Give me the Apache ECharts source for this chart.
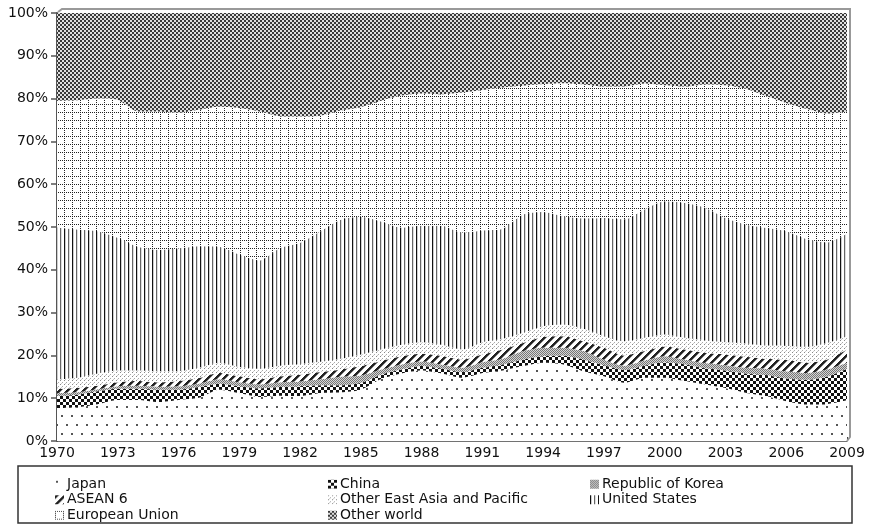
<!DOCTYPE html>
<html><head><meta charset="utf-8">
<script src="https://cdn.jsdelivr.net/npm/echarts@6/dist/echarts.min.js"></script>
<style>html,body{margin:0;padding:0;background:#fff}#c{width:870px;height:526px}</style>
</head><body><div id="c"></div>
<script>
const years = ['1970','1971','1972','1973','1974','1975','1976','1977','1978','1979',
 '1980','1981','1982','1983','1984','1985','1986','1987','1988','1989',
 '1990','1991','1992','1993','1994','1995','1996','1997','1998','1999',
 '2000','2001','2002','2003','2004','2005','2006','2007','2008','2009'];
const yTicks = [0,10,20,30,40,50,60,70,80,90,100];

const japan = [7.7,7.9,8.6,9.6,9.6,9.1,9.6,10.1,12.0,11.2,
 10.3,10.6,10.5,11.2,11.4,12.0,14.5,15.8,16.5,15.8,
 14.8,15.9,16.5,17.5,18.3,17.9,16.3,15.1,13.6,14.8,
 14.8,14.0,13.2,12.4,11.3,10.5,9.3,8.5,8.6,9.5];
const china = [2.8,2.9,3.0,2.6,2.6,2.9,2.4,2.5,1.4,1.6,
 2.0,2.0,2.3,1.8,1.6,1.6,1.0,0.9,1.0,1.1,
 1.3,1.2,1.4,1.5,1.5,2.0,2.7,2.6,3.0,2.8,
 3.6,3.9,3.8,4.1,4.5,4.9,5.3,5.8,6.4,7.4];
const korea = [0.7,0.6,0.5,0.6,0.7,0.7,0.8,0.8,1.0,0.9,
 0.9,1.1,1.1,1.4,2.0,1.7,1.2,1.2,1.1,1.0,
 1.0,1.3,1.3,2.0,2.0,1.9,2.0,1.3,1.0,1.2,
 1.4,1.1,1.2,1.2,1.3,1.5,1.7,1.6,1.7,1.4];
const asean6 = [1.0,1.0,0.8,0.9,1.1,1.0,1.2,1.3,1.5,1.4,
 1.2,1.4,1.6,1.7,1.7,2.2,2.0,1.9,1.8,2.0,
 1.9,1.8,2.2,1.9,2.5,2.7,2.3,2.8,2.4,2.2,
 2.3,2.4,2.4,2.5,2.6,2.3,2.6,2.4,2.3,3.1];
const otherEAP = [2.2,2.4,2.9,2.8,2.5,2.6,2.3,2.4,2.4,2.2,
 2.5,2.5,2.5,2.4,2.5,2.7,2.7,2.7,2.7,2.6,
 2.4,2.9,2.5,2.4,2.5,2.7,2.9,2.7,3.3,3.1,
 2.8,2.7,2.9,2.9,3.1,3.1,3.3,3.7,3.9,3.1];
const unitedStates = [35.4,34.6,33.2,31.0,28.9,28.4,28.7,28.4,27.1,26.3,
 25.3,27.5,28.3,30.5,32.5,32.2,29.9,27.4,27.2,27.8,
 27.3,26.1,25.7,27.6,26.7,25.3,25.8,27.6,28.5,30.0,
 31.1,31.5,31.0,29.0,27.8,27.5,26.8,25.2,23.5,24.0];
const europeanUnion = [29.7,30.2,31.0,32.2,31.6,32.3,31.7,31.9,32.7,34.2,
 34.8,30.8,29.5,27.0,25.5,25.6,28.2,30.8,30.9,30.7,
 32.7,32.8,33.0,30.1,29.9,31.1,31.3,30.7,31.0,29.4,
 27.1,27.2,28.8,31.0,31.7,30.8,30.0,30.4,30.1,28.5];
const otherWorld = [20.5,20.4,20.0,20.3,23.0,23.0,23.3,22.6,21.9,22.2,
 23.0,24.1,24.2,24.0,22.8,22.0,20.5,19.3,18.8,19.0,
 18.6,18.0,17.4,17.0,16.6,16.4,16.7,17.2,17.2,16.5,
 16.9,17.2,16.7,16.9,17.7,19.4,21.0,22.4,23.5,23.0];

function pat(w, h, draw) {
  const c = document.createElement('canvas');
  c.width = w; c.height = h;
  const g = c.getContext('2d');
  g.fillStyle = '#fff'; g.fillRect(0, 0, w, h);
  draw(g);
  return { image: c, repeat: 'repeat' };
}
function px(g, col, x, y, w, h) { g.fillStyle = col; g.fillRect(x, y, w || 1, h || 1); }

const pJapan = pat(10, 18, g => { px(g,'#555',1,1,2,2); px(g,'#555',6,10,2,2); });
const pChina = pat(6, 6, g => { px(g,'#111',0,0,3,3); px(g,'#111',3,3,3,3); });
const pKorea = pat(2, 2, g => { px(g,'#d4d4d4',0,0,2,2); px(g,'#777',0,0); px(g,'#777',1,1); });
const pAsean = pat(8, 8, g => {
  for (let x = 0; x < 8; x++) for (let y = 0; y < 8; y++) {
    const k = (x + y) % 8;
    if (k < 3) px(g,'#222',x,y); else if (k === 3) px(g,'#999',x,y);
  }
});
const pOEAP = pat(4, 4, g => { px(g,'#888',0,0); px(g,'#aaa',2,2); px(g,'#ccc',1,3); });
const pUS = pat(8, 1, g => { px(g,'#111',0,0); px(g,'#666',4,0); px(g,'#ccc',1,0); px(g,'#ddd',5,0); });
const pEU = pat(8, 8, g => {
  for (let i = 0; i < 8; i += 2) { px(g,'#222',i,0); px(g,'#222',0,i); }
});
const pOther = pat(4, 4, g => { px(g,'#e0e0e0',0,0,4,4); px(g,'#3a3a3a',0,0,2,2); px(g,'#3a3a3a',2,2,2,2); });

const seriesDefs = [
  ['Japan', japan, pJapan],
  ['China', china, pChina],
  ['Republic of Korea', korea, pKorea],
  ['ASEAN 6', asean6, pAsean],
  ['Other East Asia and Pacific', otherEAP, pOEAP],
  ['United States', unitedStates, pUS],
  ['European Union', europeanUnion, pEU],
  ['Other world', otherWorld, pOther]
];
const patOf = {};
seriesDefs.forEach(d => patOf[d[0]] = d[2]);

const font = 'DejaVu Sans';
function legendCol(left, names) {
  return {
    orient: 'vertical', left: left, top: 477, padding: 0, itemWidth: 9, itemHeight: 9, itemGap: 1,
    icon: 'rect', selectedMode: false,
    textStyle: { fontFamily: font, fontSize: 14, color: '#111', lineHeight: 14.5, padding: [0,0,0,-2] },
    data: names.map(n => ({ name: n, itemStyle: { color: patOf[n], borderWidth: 0 } }))
  };
}

const chart = echarts.init(document.getElementById('c'), null, { renderer: 'canvas' });
chart.setOption({
  animation: false,
  backgroundColor: '#fff',
  grid: { left: 57, right: 23, top: 13, bottom: 85, containLabel: false },
  xAxis: {
    type: 'category', data: years, boundaryGap: false,
    axisLine: { lineStyle: { color: '#444', width: 1.5 } },
    axisTick: { inside: true, length: 4, interval: 0, lineStyle: { color: '#444' } },
    axisLabel: { interval: 2, margin: 5, fontFamily: font, fontSize: 14, color: '#111' },
    splitLine: { show: false }
  },
  yAxis: {
    type: 'value', min: 0, max: 100, interval: 10,
    axisLine: { show: true, lineStyle: { color: '#555', width: 2 } },
    axisTick: { show: true, length: 6, lineStyle: { color: '#555', width: 1.5 } },
    axisLabel: { formatter: v => yTicks.includes(v) ? v + '%' : '', margin: 9, fontFamily: font, fontSize: 14, color: '#111' },
    splitLine: { show: false }
  },
  legend: [
    legendCol(55, ['Japan', 'ASEAN 6', 'European Union']),
    legendCol(328, ['China', 'Other East Asia and Pacific', 'Other world']),
    legendCol(590, ['Republic of Korea', 'United States'])
  ],
  graphic: [
    { type: 'rect', shape: { x: 18, y: 466, width: 834, height: 57 }, style: { fill: 'none', stroke: '#333', lineWidth: 1.5 }, z: 10 },
    { type: 'polyline', shape: { points: [[58,12],[62,9],[850,9],[850,437],[847,441]] }, style: { fill: 'none', stroke: '#999', lineWidth: 2 }, z: 10 }
  ],
  series: seriesDefs.map(d => ({
    name: d[0], type: 'line', stack: 'total', data: d[1],
    symbol: 'none', smooth: 0.25,
    lineStyle: { width: 0 },
    itemStyle: { color: d[2] },
    areaStyle: { color: d[2], opacity: 1 },
    emphasis: { disabled: true }
  }))
});
</script></body></html>
